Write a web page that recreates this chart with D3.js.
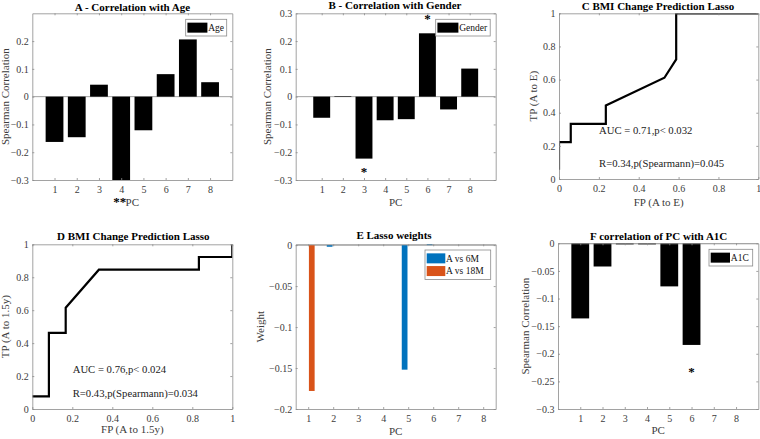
<!DOCTYPE html>
<html><head><meta charset="utf-8">
<script src="https://cdn.jsdelivr.net/npm/d3@7"></script>
<style>
body{margin:0;background:#fff;}
svg{display:block;}
svg text{font-family:"Liberation Serif","Times New Roman",serif !important;}
</style></head>
<body>
<svg id="c" width="760" height="439"></svg>
<script>
// ---------- data ----------
const pcs = [1,2,3,4,5,6,7,8];
const ageCorr    = [-0.163,-0.146, 0.043,-0.32, -0.121, 0.081, 0.206, 0.052];
const genderCorr = [-0.076, 0.002,-0.223,-0.085,-0.081, 0.228,-0.046, 0.101];
const a1cCorr    = [-0.136,-0.042,-0.002,-0.002,-0.078,-0.184, 0, 0];
const lasso6M    = [0,-0.002, 0, 0,-0.152, 0.003, 0, 0];
const lasso18M   = [-0.178, 0, 0, 0, 0, 0, 0, 0];
const rocCfp = [0, 0, 0.059, 0.059, 0.235, 0.235, 0.529, 0.588, 0.588, 1];
const rocCtp = [0.056, 0.222, 0.222, 0.333, 0.333, 0.444, 0.611, 0.722, 1, 1];
const rocDfp = [0, 0.083, 0.083, 0.167, 0.167, 0.333, 0.833, 0.833, 1, 1];
const rocDtp = [0.077, 0.077, 0.462, 0.462, 0.615, 0.846, 0.846, 0.923, 0.923, 1];
const ticksCorr = [-0.3,-0.2,-0.1,0,0.1,0.2];
const ticksCorrB = [-0.3,-0.2,-0.1,0,0.1,0.2,0.3];
const ticksRoc = [0,0.2,0.4,0.6,0.8,1];
const ticksE = [-0.2,-0.15,-0.1,-0.05,0];
const ticksF = [-0.3,-0.25,-0.2,-0.15,-0.1,-0.05,0];

const FONT = '"Liberation Serif","Times New Roman",serif';
const AX = "#8a8a8a", TXT = "#3c3c3c", BLUE = "#0072BD", ORANGE = "#D95319";
const svg = d3.select("#c");
let clipId = 0;

function fmt(v){ return d3.format("~g")(+v.toFixed(3)); }

function panel(o){
  const g = svg.append("g");
  const x = d3.scaleLinear().domain(o.xd).range([o.l, o.r]);
  const y = d3.scaleLinear().domain(o.yd).range([o.b, o.t]);
  const id = "clip"+(clipId++);
  g.append("clipPath").attr("id", id).append("rect")
    .attr("x", o.l).attr("y", o.t).attr("width", o.r-o.l).attr("height", o.b-o.t);
  const plot = g.append("g").attr("clip-path", `url(#${id})`);
  const mk = (ax)=>ax.tickSizeInner(-2).tickSizeOuter(0);
  const bottom = g.append("g").attr("transform",`translate(0,${o.b})`)
    .call(mk(d3.axisBottom(x)).tickValues(o.xt).tickFormat(fmt).tickPadding(5));
  const top = g.append("g").attr("transform",`translate(0,${o.t})`)
    .call(mk(d3.axisTop(x)).tickValues(o.xt).tickFormat(""));
  const left = g.append("g").attr("transform",`translate(${o.l},0)`)
    .call(mk(d3.axisLeft(y)).tickValues(o.yt).tickFormat(fmt).tickPadding(3.5));
  const right = g.append("g").attr("transform",`translate(${o.r},0)`)
    .call(mk(d3.axisRight(y)).tickValues(o.yt).tickFormat(""));
  [bottom,top,left,right].forEach(a=>{
    a.attr("font-family",FONT).attr("font-size",10);
    a.selectAll("path,line").attr("stroke",AX).attr("stroke-width",0.8);
    a.selectAll("text").attr("fill",TXT);
  });
  bottom.selectAll("text").attr("dy","0.75em");
  g.append("text").attr("x",o.tx).attr("y",o.ty).attr("text-anchor","middle")
    .attr("font-family",FONT).attr("font-weight","bold").attr("font-size",11).attr("fill","#000").text(o.title);
  g.append("text").attr("x",(o.l+o.r)/2).attr("y",o.xly).attr("text-anchor","middle")
    .attr("font-family",FONT).attr("font-size",11).attr("fill",TXT).text(o.xlab);
  g.append("text").attr("transform",`translate(${o.ylx},${(o.t+o.b)/2}) rotate(-90)`)
    .attr("text-anchor","middle").attr("font-family",FONT).attr("font-size",11).attr("fill",TXT).text(o.ylab);
  return {g, plot, x, y};
}

function bars(p, vals, color, offset, w){
  p.plot.selectAll(null).data(vals).enter().append("rect")
    .attr("x",(d,i)=>p.x(pcs[i]+offset-w/2))
    .attr("width",(d,i)=>p.x(pcs[i]+offset+w/2)-p.x(pcs[i]+offset-w/2))
    .attr("y",d=>Math.min(p.y(d),p.y(0)))
    .attr("height",d=>Math.abs(p.y(d)-p.y(0)))
    .attr("fill",color);
}
function baseline(p){
  p.plot.append("line").attr("x1",p.x.range()[0]).attr("x2",p.x.range()[1])
    .attr("y1",p.y(0)).attr("y2",p.y(0)).attr("stroke",AX).attr("stroke-width",0.8);
}
function legend(p, x0, y0, w, items){
  const h = 4 + items.length*12.7;
  p.g.append("rect").attr("x",x0).attr("y",y0).attr("width",w).attr("height",h)
    .attr("fill","#fff").attr("stroke",AX).attr("stroke-width",0.8);
  items.forEach((it,i)=>{
    const cy = y0 + 2 + 6.35 + i*12.7;
    p.g.append("rect").attr("x",x0+1.7).attr("y",cy-5).attr("width",it.sw).attr("height",10).attr("fill",it.c);
    p.g.append("text").attr("x",x0+2.5+it.sw).attr("y",cy+3.3).attr("font-family",FONT)
      .attr("font-size",9.5).attr("fill","#111").text(it.t);
  });
}
function star(p, xv, yv, s, dx){
  p.g.append("text").attr("x",p.x(xv)+(dx||0)).attr("y",p.y(yv)+6.3).attr("text-anchor","middle")
    .attr("font-family",FONT).attr("font-size",13).attr("font-weight","bold").attr("fill","#000").text(s);
}
function roc(p, fp, tp){
  p.plot.append("path").datum(fp.map((f,i)=>[f,tp[i]]))
    .attr("d", d3.line().x(d=>p.x(d[0])).y(d=>p.y(d[1])))
    .attr("fill","none").attr("stroke","#000").attr("stroke-width",2.2).attr("stroke-linejoin","miter");
}
function note(p, xpx, ypx, t){
  p.g.append("text").attr("x",xpx).attr("y",ypx).attr("font-family",FONT)
    .attr("font-size",10.7).attr("fill","#222").text(t);
}

// ---------- A ----------
const A = panel({l:32.3,r:232.3,t:13.3,b:180,xd:[0,9],yd:[-0.3,0.3],xt:pcs,yt:ticksCorr,
  title:"A - Correlation with Age",tx:132.5,ty:10.5,xlab:"PC",xly:206,ylab:"Spearman Correlation",ylx:9});
baseline(A);
bars(A, ageCorr, "#000", 0, 0.8);
legend(A, 185.7, 19.3, 41, [{t:"Age",c:"#000",sw:20}]);
star(A, 4, -0.372, "**", -1.5);

// ---------- B ----------
const B = panel({l:295.7,r:495.7,t:13.3,b:180,xd:[-0.23,9.23],yd:[-0.3,0.3],xt:pcs,yt:ticksCorrB,
  title:"B - Correlation with Gender",tx:395,ty:9,xlab:"PC",xly:206,ylab:"Spearman Correlation",ylx:271});
baseline(B);
bars(B, genderCorr, "#000", 0, 0.8);
legend(B, 435.7, 19.3, 54.5, [{t:"Gender",c:"#000",sw:21}]);
star(B, 6, 0.288, "*");
star(B, 3, -0.263, "*");

// ---------- C ----------
const C = panel({l:559,r:758.3,t:13.3,b:179,xd:[0,1],yd:[0,1],xt:ticksRoc,yt:ticksRoc,
  title:"C BMI Change Prediction Lasso",tx:658,ty:9.5,xlab:"FP (A to E)",xly:206,ylab:"TP (A to E)",ylx:537});
roc(C, rocCfp, rocCtp);
note(C, 599, 134, "AUC = 0.71,p< 0.032");
note(C, 599, 167, "R=0.34,p(Spearmann)=0.045");

// ---------- D ----------
const D = panel({l:32.3,r:232.3,t:244.3,b:409,xd:[0,1],yd:[0,1],xt:ticksRoc,yt:ticksRoc,
  title:"D BMI Change Prediction Lasso",tx:133.3,ty:240,xlab:"FP (A to 1.5y)",xly:433,ylab:"TP (A to 1.5y)",ylx:9});
roc(D, rocDfp, rocDtp);
note(D, 72.7, 373, "AUC = 0.76,p< 0.024");
note(D, 72.7, 396.5, "R=0.43,p(Spearmann)=0.034");

// ---------- E ----------
const E = panel({l:295.7,r:495.7,t:244.3,b:409,xd:[0.5,8.5],yd:[-0.2,0.001],xt:pcs,yt:ticksE,
  title:"E Lasso weights",tx:394,ty:239,xlab:"PC",xly:434.5,ylab:"Weight",ylx:264});
baseline(E);
bars(E, lasso6M, BLUE, -0.143, 0.229);
bars(E, lasso18M, ORANGE, 0.143, 0.229);
legend(E, 425, 250, 65.7, [{t:"A vs 6M",c:BLUE,sw:18.6},{t:"A vs 18M",c:ORANGE,sw:18.6}]);

// ---------- F ----------
const F = panel({l:558,r:758.3,t:243.3,b:409,xd:[0,9],yd:[-0.3,0],xt:pcs,yt:ticksF,
  title:"F correlation of PC with A1C",tx:658.7,ty:239.5,xlab:"PC",xly:434,ylab:"Spearman Correlation",ylx:529});
baseline(F);
bars(F, a1cCorr, "#000", 0, 0.8);
legend(F, 709, 249.3, 43.7, [{t:"A1C",c:"#000",sw:19.3}]);
star(F, 6, -0.2295, "*");
</script>
</body></html>
